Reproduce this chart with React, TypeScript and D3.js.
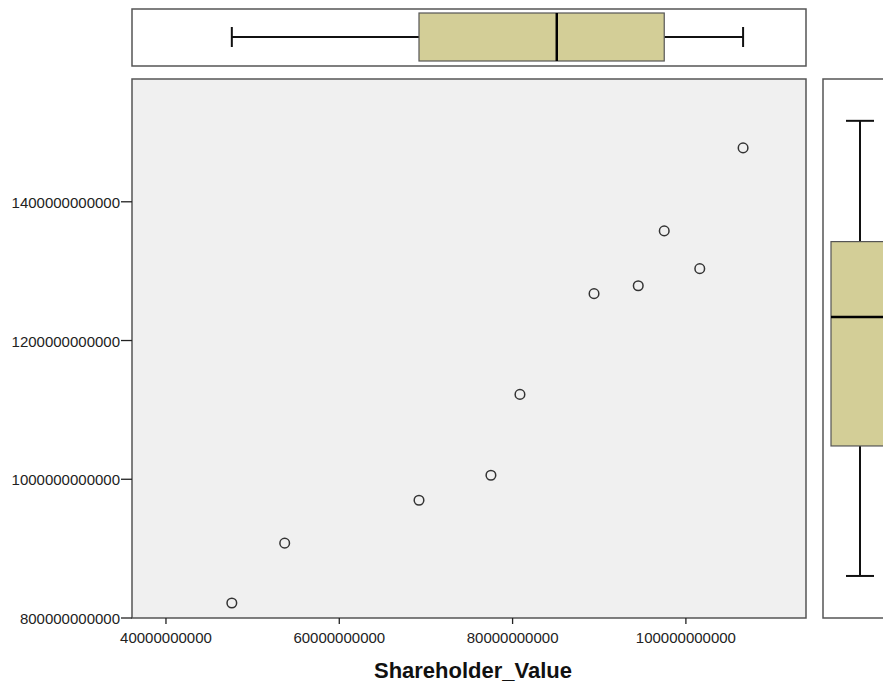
import React from "react";
import * as d3 from "d3";

const xValues = [47.6e9, 53.7e9, 69.2e9, 77.5e9, 80.85e9, 89.4e9, 94.5e9, 97.5e9, 101.6e9, 106.6e9];
const yValues = [821.6e9, 907.9e9, 969.8e9, 1005.8e9, 1122.3e9, 1267.6e9, 1279e9, 1358e9, 1303.6e9, 1477.7e9];
const xTicks = [40e9, 60e9, 80e9, 100e9];
const xTickLabels = ["40000000000", "60000000000", "80000000000", "100000000000"];
const yTicks = [800e9, 1000e9, 1200e9, 1400e9];
const yTickLabels = ["800000000000", "1000000000000", "1200000000000", "1400000000000"];
// [min, q1, median, q3, max]
const xBox = [47.6e9, 69.2e9, 85.1e9, 97.5e9, 106.6e9];
const yBox = [821.6e9, 1009e9, 1195e9, 1303.6e9, 1477.7e9];
const xTitle = "Shareholder_Value";

const W = 883, H = 687;
const L = 132, R = 806, T = 79, B = 618;
const FONT = "'Liberation Sans', Arial, sans-serif";
const BOX_FILL = "#d3ce97";

export default function App() {
  const x = d3.scaleLinear().domain([36.08e9, 113.86e9]).range([L, R]);
  const y = d3.scaleLinear().domain([800e9, 1577e9]).range([B, T]);
  const yR = d3.scaleLinear().domain([761e9, 1538e9]).range([B, T]);

  const topCy = 37, topHalf = 24, capHalf = 10;
  const rCx = 860, rHalf = 29, rCap = 14;

  return (
    <svg width={W} height={H} style={{ position: "absolute", left: 0, top: 0, background: "#fff" }}>
      {/* top box plot panel */}
      <rect x={L} y={9} width={R - L} height={57} fill="#fff" stroke="#555" strokeWidth={1.5} />
      <line x1={x(xBox[0])} x2={x(xBox[1])} y1={topCy} y2={topCy} stroke="#111" strokeWidth={2} />
      <line x1={x(xBox[3])} x2={x(xBox[4])} y1={topCy} y2={topCy} stroke="#111" strokeWidth={2} />
      <line x1={x(xBox[0])} x2={x(xBox[0])} y1={topCy - capHalf} y2={topCy + capHalf} stroke="#111" strokeWidth={2} />
      <line x1={x(xBox[4])} x2={x(xBox[4])} y1={topCy - capHalf} y2={topCy + capHalf} stroke="#111" strokeWidth={2} />
      <rect x={x(xBox[1])} y={topCy - topHalf} width={x(xBox[3]) - x(xBox[1])} height={topHalf * 2} fill={BOX_FILL} stroke="#555" strokeWidth={1.2} />
      <line x1={x(xBox[2])} x2={x(xBox[2])} y1={topCy - topHalf} y2={topCy + topHalf} stroke="#000" strokeWidth={2.5} />

      {/* right box plot panel */}
      <rect x={823} y={T} width={100} height={B - T} fill="#fff" stroke="#555" strokeWidth={1.5} />
      <line x1={rCx} x2={rCx} y1={yR(yBox[0])} y2={yR(yBox[1])} stroke="#111" strokeWidth={2} />
      <line x1={rCx} x2={rCx} y1={yR(yBox[3])} y2={yR(yBox[4])} stroke="#111" strokeWidth={2} />
      <line x1={rCx - rCap} x2={rCx + rCap} y1={yR(yBox[0])} y2={yR(yBox[0])} stroke="#111" strokeWidth={2} />
      <line x1={rCx - rCap} x2={rCx + rCap} y1={yR(yBox[4])} y2={yR(yBox[4])} stroke="#111" strokeWidth={2} />
      <rect x={rCx - rHalf} y={yR(yBox[3])} width={rHalf * 2} height={yR(yBox[1]) - yR(yBox[3])} fill={BOX_FILL} stroke="#555" strokeWidth={1.2} />
      <line x1={rCx - rHalf} x2={rCx + rHalf} y1={yR(yBox[2])} y2={yR(yBox[2])} stroke="#000" strokeWidth={2.5} />

      {/* main scatter panel */}
      <rect x={L} y={T} width={R - L} height={B - T} fill="#f0f0f0" stroke="#555" strokeWidth={1.5} />
      {xValues.map((v, i) => (
        <circle key={i} cx={x(v)} cy={y(yValues[i])} r={4.8} fill="none" stroke="#333" strokeWidth={1.5} />
      ))}

      {/* x axis */}
      {xTicks.map((t, i) => (
        <g key={i}>
          <line x1={x(t)} x2={x(t)} y1={B} y2={B + 6} stroke="#222" strokeWidth={1.3} />
          <text x={x(t)} y={643} textAnchor="middle" fontFamily={FONT} fontSize={15} fill="#222">{xTickLabels[i]}</text>
        </g>
      ))}
      {/* y axis */}
      {yTicks.map((t, i) => (
        <g key={i}>
          <line x1={L - 11} x2={L} y1={y(t)} y2={y(t)} stroke="#222" strokeWidth={1.3} />
          <text x={L - 12} y={y(t) + 6} textAnchor="end" fontFamily={FONT} fontSize={15} fill="#222">{yTickLabels[i]}</text>
        </g>
      ))}
      <text x={473} y={678} textAnchor="middle" fontFamily={FONT} fontSize={22} fontWeight="bold" fill="#111">{xTitle}</text>
    </svg>
  );
}
